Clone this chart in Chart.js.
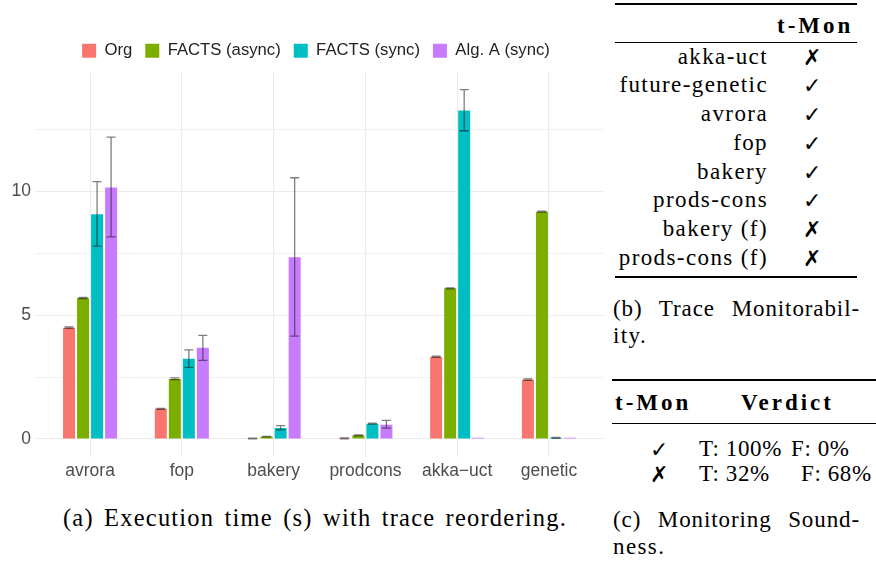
<!DOCTYPE html>
<html>
<head>
<meta charset="utf-8">
<script src="https://cdn.jsdelivr.net/npm/chart.js@4.4.0/dist/chart.umd.min.js"></script>
<style>
  body { margin: 0; background: #fff; }
  #wrap { position: relative; width: 876px; height: 561px; overflow: hidden; background: #fff; }
  #chartBox { position: absolute; left: 0; top: 0; width: 604px; height: 490px; }
  .tx { position: absolute; font-family: 'Liberation Serif', serif; font-size: 23px; line-height: 23px;
        color: #000; white-space: nowrap; letter-spacing: 1.4px; }
  .b { font-weight: bold; letter-spacing: 3px; }
  .mk { font-family: 'DejaVu Sans', sans-serif; font-size: 22px; font-weight: bold; letter-spacing: 0; }
  .rule { position: absolute; background: #000; }
  .just { text-align: justify; text-align-last: justify; letter-spacing: 0.9px; }
  .num { letter-spacing: 0.6px; }
</style>
</head>
<body>
<div id="wrap">
  <div id="chartBox"><canvas id="timeChart" width="604" height="490"></canvas></div>

  <div class="tx" style="left:63px; top:506px; font-size:24.5px; line-height:24.5px; letter-spacing:1.2px; word-spacing:3px;">(a) Execution time (s) with trace reordering.</div>

  <!-- (b) trace monitorability -->
  <div class="rule" style="left:615px; top:3px; width:242px; height:2px;"></div>
  <div class="tx b" style="left:777px; top:14px;">t-Mon</div>
  <div class="rule" style="left:615px; top:42px; width:242px; height:1px;"></div>
  <div id="monRows"></div>
  <div class="rule" style="left:615px; top:276px; width:242px; height:2px;"></div>
  <div class="tx just" style="left:613px; top:297px; width:247px;">(b) Trace Monitorabil-</div>
  <div class="tx" style="left:613px; top:324px;">ity.</div>

  <!-- (c) monitoring soundness -->
  <div class="rule" style="left:612px; top:379px; width:264px; height:2px;"></div>
  <div class="tx b" style="left:615px; top:391px;">t-Mon</div>
  <div class="tx b" style="left:741px; top:391px;">Verdict</div>
  <div class="rule" style="left:612px; top:423px; width:264px; height:1px;"></div>
  <div class="tx mk" style="left:650px; top:438px;">&#10003;</div>
  <div class="tx num" style="left:699px; top:437px;">T: 100%</div>
  <div class="tx num" style="left:791px; top:437px;">F: 0%</div>
  <div class="tx mk" style="left:650px; top:463px;">&#10007;</div>
  <div class="tx num" style="left:699px; top:462px;">T: 32%</div>
  <div class="tx num" style="left:801px; top:462px;">F: 68%</div>
  <div class="tx just" style="left:613px; top:508px; width:247px;">(c) Monitoring Sound-</div>
  <div class="tx" style="left:613px; top:535px;">ness.</div>
</div>

<script>
// chart (a): execution time in seconds
var categories = ['avrora', 'fop', 'bakery', 'prodcons', 'akka\u2212uct', 'genetic'];
var seriesNames = ['Org', 'FACTS (async)', 'FACTS (sync)', 'Alg. A (sync)'];
var seriesColors = ['#F8766D', '#7CAE00', '#00BFC4', '#C77CFF'];

var orgTime   = [4.50, 1.22, 0.03, 0.03, 3.32, 2.40];
var asyncTime = [5.70, 2.43, 0.10, 0.15, 6.09, 9.19];
var syncTime  = [9.08, 3.24, 0.45, 0.62, 13.28, 0.05];
var algATime  = [10.17, 3.69, 7.35, 0.58, 0.05, 0.05];

var orgLow    = [4.47, 1.20, 0.01, 0.01, 3.30, 2.37];
var orgHigh   = [4.53, 1.24, 0.04, 0.05, 3.35, 2.43];
var asyncLow  = [5.68, 2.40, 0.09, 0.13, 6.07, 9.17];
var asyncHigh = [5.72, 2.47, 0.11, 0.17, 6.11, 9.21];
var syncLow   = [7.80, 2.90, 0.37, 0.60, 12.46, 0.03];
var syncHigh  = [10.40, 3.60, 0.54, 0.64, 14.12, 0.07];
var algALow   = [8.17, 3.18, 4.16, 0.44, null, null];
var algAHigh  = [12.20, 4.19, 10.56, 0.75, null, null];

var yTicks = [0, 2.5, 5, 7.5, 10, 12.5];

// table (b)
var monNames = ['akka-uct', 'future-genetic', 'avrora', 'fop', 'bakery', 'prods-cons', 'bakery (f)', 'prods-cons (f)'];
var monOk = [false, true, true, true, true, true, false, false];

var rows = document.getElementById('monRows');
monNames.forEach(function (name, i) {
    var top = 64 + 28.7 * i - 19.3;
    var n = document.createElement('div');
    n.className = 'tx';
    n.style.right = (876 - 768) + 'px';
    n.style.top = top + 'px';
    n.textContent = name;
    rows.appendChild(n);
    var m = document.createElement('div');
    m.className = 'tx mk';
    m.style.left = '803px';
    m.style.top = (top + 1) + 'px';
    m.textContent = monOk[i] ? '\u2713' : '\u2717';
    rows.appendChild(m);
});

var values = [orgTime, asyncTime, syncTime, algATime];
var lows = [orgLow, asyncLow, syncLow, algALow];
var highs = [orgHigh, asyncHigh, syncHigh, algAHigh];

var datasets = seriesNames.map(function (name, s) {
    return {
        label: name,
        data: values[s].map(function (v, i) { return { x: i, y: v }; }),
        errLow: lows[s],
        errHigh: highs[s],
        backgroundColor: seriesColors[s],
        borderWidth: 0,
        categoryPercentage: 0.611,
        barPercentage: 0.857
    };
});

var errorBars = {
    id: 'errorBars',
    afterDatasetsDraw: function (chart) {
        var ctx = chart.ctx, yScale = chart.scales.y;
        ctx.save();
        ctx.strokeStyle = 'rgba(20,20,20,0.55)';
        ctx.lineWidth = 1.3;
        chart.data.datasets.forEach(function (ds, d) {
            chart.getDatasetMeta(d).data.forEach(function (bar, i) {
                if (ds.errLow[i] == null) return;
                var x = bar.x;
                var y1 = yScale.getPixelForValue(ds.errLow[i]);
                var y2 = yScale.getPixelForValue(ds.errHigh[i]);
                ctx.beginPath();
                ctx.moveTo(x, y1); ctx.lineTo(x, y2);
                ctx.moveTo(x - 4.5, y1); ctx.lineTo(x + 4.5, y1);
                ctx.moveTo(x - 4.5, y2); ctx.lineTo(x + 4.5, y2);
                ctx.stroke();
            });
        });
        ctx.restore();
    }
};

// nudge the legend to where ggplot put it
var legendShift = {
    id: 'legendShift',
    beforeLayout: function (chart) {
        var lg = chart.legend;
        if (!lg._tweaked) {
            var fit = lg.fit;
            lg.fit = function () { fit.call(this); this.height += 3; };
            lg._tweaked = true;
        }
    },
    afterLayout: function (chart) {
        chart.legend.left += 14;
        chart.legend.right += 14;
    }
};

var ctx = document.getElementById('timeChart').getContext('2d');
var timeChart = new Chart(ctx, {
    type: 'bar',
    data: { datasets: datasets },
    plugins: [errorBars, legendShift],
    options: {
        responsive: false,
        animation: false,
        layout: { padding: { top: 29.5, left: 0, right: 0, bottom: 0 } },
        plugins: {
            legend: {
                position: 'top',
                labels: {
                    boxWidth: 14,
                    boxHeight: 14,
                    padding: 13,
                    color: '#222',
                    font: { family: 'Liberation Sans', size: 16.7 }
                }
            },
            tooltip: { enabled: false }
        },
        scales: {
            x: {
                type: 'linear',
                offset: false,
                min: -0.6,
                max: 5.6,
                afterBuildTicks: function (scale) {
                    scale.ticks = categories.map(function (c, i) { return { value: i }; });
                },
                afterFit: function (scale) { scale.height = 33.5; },
                grid: { color: '#ebebeb', lineWidth: 1.1, drawTicks: false, offset: false },
                border: { display: false },
                ticks: {
                    padding: 4,
                    color: '#4d4d4d',
                    font: { family: 'Liberation Sans', size: 17.5 },
                    callback: function (v) { return categories[v]; }
                }
            },
            y: {
                min: -0.706,
                max: 14.826,
                afterBuildTicks: function (scale) {
                    scale.ticks = yTicks.map(function (v) { return { value: v }; });
                },
                afterFit: function (scale) { scale.width = 35; },
                grid: {
                    drawTicks: false,
                    color: function (c) { return c.tick && c.tick.value % 5 === 0 ? '#ebebeb' : '#f1f1f1'; },
                    lineWidth: 1.1
                },
                border: { display: false },
                ticks: {
                    padding: 4,
                    color: '#4d4d4d',
                    font: { family: 'Liberation Sans', size: 17.5 },
                    callback: function (v) { return v % 5 === 0 ? v : ''; }
                }
            }
        }
    }
});
</script>
</body>
</html>
